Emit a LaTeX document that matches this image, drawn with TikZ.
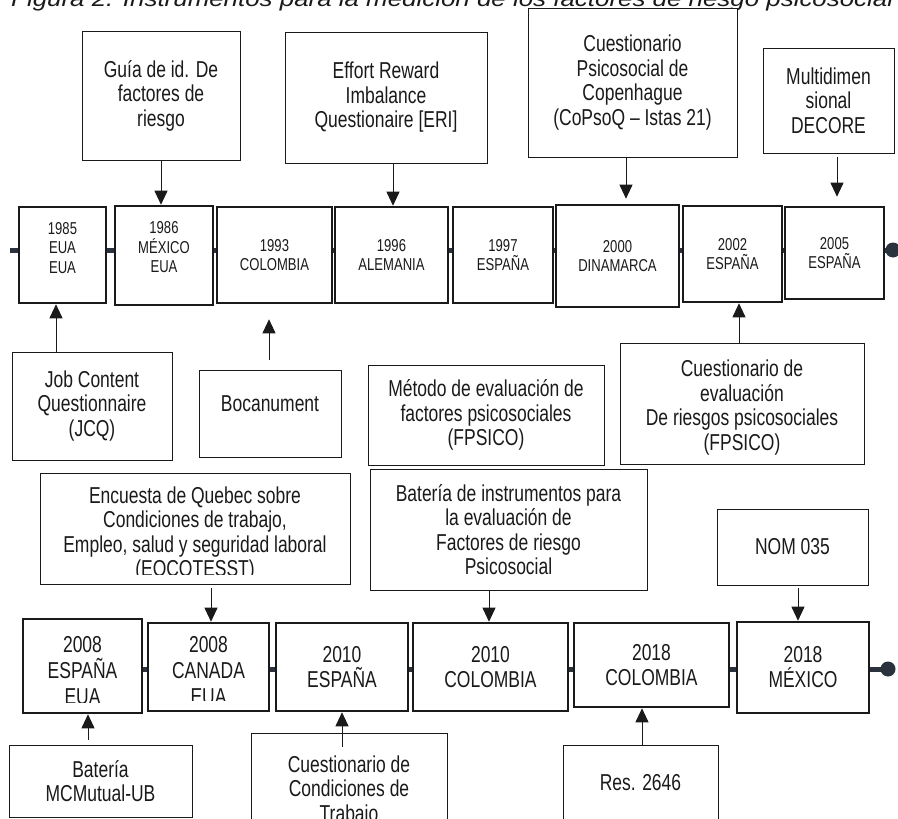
\documentclass[tikz,border=0pt]{standalone}
\usepackage{fontspec}
\setmainfont{Liberation Sans}[FakeStretch=0.76]
\usetikzlibrary{arrows.meta}
\definecolor{tlc}{HTML}{29323D}
\definecolor{ink}{HTML}{1A1A1A}
\tikzset{
  tbox/.style={draw=ink, line width=0.9pt, fill=white, align=center, inner sep=0pt, text=ink, font=\fontsize{23}{24.5}\selectfont},
  ybox/.style={draw=ink, line width=2.6pt, fill=white, align=center, inner sep=0pt, text=ink, font=\fontsize{17.2}{19.5}\selectfont},
  ybig/.style={ybox, font=\fontsize{23}{25}\selectfont},
  txt/.style={align=center, inner sep=0pt, text=ink, font=\fontsize{23}{24.5}\selectfont},
  ytxt/.style={align=center, inner sep=0pt, text=ink, font=\fontsize{17.2}{19.5}\selectfont},
  ybtxt/.style={align=center, inner sep=0pt, text=ink, font=\fontsize{23}{26}\selectfont},
  arr/.style={draw=ink, line width=0.9pt, -{Triangle[width=13pt,length=14pt]}},
  tline/.style={draw=tlc, line width=5pt},
  enddot/.style={circle, fill=tlc, inner sep=0pt, minimum size=15pt},
  sz/.style 2 args={minimum width=#1pt, minimum height=#2pt},
}
\begin{document}
\begin{tikzpicture}[x=1pt, y=-1pt]
\path[use as bounding box, fill=white] (0,0) rectangle (898,819);

% title (cut by the top edge, as in the reference)
\node[anchor=base west, inner sep=0pt, text=ink] (title) at (11,6)
  {\resizebox{882pt}{\height}{\itshape\fontsize{22}{24}\selectfont Figura 2. Instrumentos para la medición de los factores de riesgo psicosocial}};

% timeline lines
\coordinate (start1) at (10,250);
\node[enddot] (end1) at (893,250) {};
\draw[tline] (start1) -- (end1.center);
\coordinate (start2) at (40,669);
\node[enddot] (end2) at (888,669) {};
\draw[tline] (start2) -- (end2.center);

% top text boxes
\node[tbox, sz={158}{129}] (guia) at (161,95.5) {Guía de id. De\\factores de\\riesgo};
\node[tbox, sz={202}{131}] (eri) at (386,97.5) {Effort Reward\\Imbalance\\Questionaire [ERI]};
\node[tbox, sz={209}{149}] (copsoq) at (632.5,82.5) {Cuestionario\\Psicosocial de\\Copenhague\\(CoPsoQ – Istas 21)};
\node[tbox, sz={131}{105}] (decore) at (828.5,100.5) {Multidimen\\sional\\DECORE};

% row 1 year boxes
\node[ybox, sz={87}{96}] (y1985) at (62.5,255) {};
\node[ytxt] (y1985-t) at (62.5,248) {1985\\EUA\\EUA};
\node[ybox, sz={98}{99}] (y1986) at (164,255.5) {};
\node[ytxt] (y1986-t) at (164,247.5) {1986\\MÉXICO\\EUA};
\node[ybox, sz={115}{96}] (y1993) at (274.5,255) {1993\\COLOMBIA};
\node[ybox, sz={113}{96}] (y1996) at (391.5,255) {1996\\ALEMANIA};
\node[ybox, sz={100}{96}] (y1997) at (503,255) {1997\\ESPAÑA};
\node[ybox, sz={123}{102}] (y2000) at (617.5,256) {2000\\DINAMARCA};
\node[ybox, sz={99}{96}] (y2002) at (732.5,254) {2002\\ESPAÑA};
\node[ybox, sz={99}{92}] (y2005) at (834.5,253) {2005\\ESPAÑA};

% arrows to row 1
\draw[arr] (guia.south) -- ([xshift=-3pt]y1986.north);
\draw[arr] ([xshift=7pt]eri.south) -- ([xshift=1.5pt]y1996.north);
\draw[arr] ([xshift=-6.5pt]copsoq.south) -- ([xshift=8.5pt,yshift=5pt]y2000.north);
\draw[arr] ([xshift=8.5pt,yshift=-4pt]decore.south) -- ([xshift=2.5pt,yshift=9pt]y2005.north);

% boxes under row 1
\node[tbox, sz={160}{108}] (jcq) at (92,406) {Job Content\\Questionnaire\\(JCQ)};
\node[tbox, sz={142}{87}] (boca) at (270,413.5) {};
\node[txt] (boca-t) at (270,404) {Bocanument};
\node[tbox, sz={236}{100}] (metodo) at (486,415) {Método de evaluación de\\factores psicosociales\\(FPSICO)};
\node[tbox, sz={244}{121}] (ceval) at (742,403.5) {};
\node[txt] (ceval-t) at (742,407.5) {Cuestionario de\\evaluación\\De riesgos psicosociales\\(FPSICO)};

\draw[arr] ([xshift=-36pt]jcq.north) -- ([xshift=-6.5pt]y1985.south);
\draw[arr] ([xshift=-1pt,yshift=10pt]boca.north) -- ([xshift=-5.5pt,yshift=-15pt]y1993.south);
\draw[arr] ([xshift=-3pt]ceval.north) -- ([xshift=6.5pt]y2002.south);

% boxes above row 2
\node[tbox, sz={310}{111}] (encuesta) at (195,528.5) {};
\begin{scope}
  \clip (40,473) rectangle (350,574);
  \node[txt] (encuesta-t) at (195,534) {Encuesta de Quebec sobre\\Condiciones de trabajo,\\Empleo, salud y seguridad laboral\\(EOCOTESST)};
\end{scope}
\node[tbox, sz={277}{121}] (binst) at (508.5,529.5) {Batería de instrumentos para\\la evaluación de\\Factores de riesgo\\Psicosocial};
\node[tbox, sz={151}{76}] (nom) at (792.5,547) {NOM 035};

% row 2 year boxes
\node[ybox, sz={119}{94}] (y2008a) at (82.5,666) {};
\begin{scope}
  \clip (23,619) rectangle (142,702);
  \node[ybtxt] (y2008a-t) at (82.5,671) {2008\\ESPAÑA\\EUA};
\end{scope}
\node[ybox, sz={121}{88}] (y2008b) at (208.5,667) {};
\begin{scope}
  \clip (148,623) rectangle (269,700);
  \node[ybtxt] (y2008b-t) at (208.5,671) {2008\\CANADA\\EUA};
\end{scope}
\node[ybig, sz={132}{88}] (y2010a) at (342,667) {2010\\ESPAÑA};
\node[ybig, sz={155}{88}] (y2010b) at (490.5,667) {2010\\COLOMBIA};
\node[ybig, sz={155}{84}] (y2018a) at (651.5,665) {2018\\COLOMBIA};
\node[ybig, sz={132}{91}] (y2018b) at (803,667.5) {2018\\MÉXICO};

% arrows to row 2
\draw[arr] ([xshift=16pt,yshift=-4pt]encuesta.south) -- ([xshift=2.5pt]y2008b.north);
\draw[arr] ([xshift=-19.5pt]binst.south) -- ([xshift=-1.5pt]y2010b.north);
\draw[arr] ([xshift=5.5pt,yshift=-3pt]nom.south) -- ([xshift=-5pt]y2018b.north);

% boxes under row 2 (cut by the bottom edge, as in the reference)
\node[tbox, sz={183}{72}] (batmc) at (100.5,781) {Batería\\MCMutual-UB};
\node[tbox, sz={196}{98}] (cond) at (349,782) {};
\node[txt] (cond-t) at (349,791) {Cuestionario de\\Condiciones de\\Trabajo};
\node[tbox, sz={155}{76}] (res) at (640.5,783) {Res. 2646};

\draw[arr] ([xshift=-12.5pt,yshift=5pt]batmc.north) -- ([xshift=5.5pt]y2008a.south);
\draw[arr] ([xshift=-7pt,yshift=-14pt]cond.north) -- (y2010a.south);
\draw[arr] ([xshift=1.5pt]res.north) -- ([xshift=-9.5pt]y2018a.south);
\end{tikzpicture}
\end{document}
